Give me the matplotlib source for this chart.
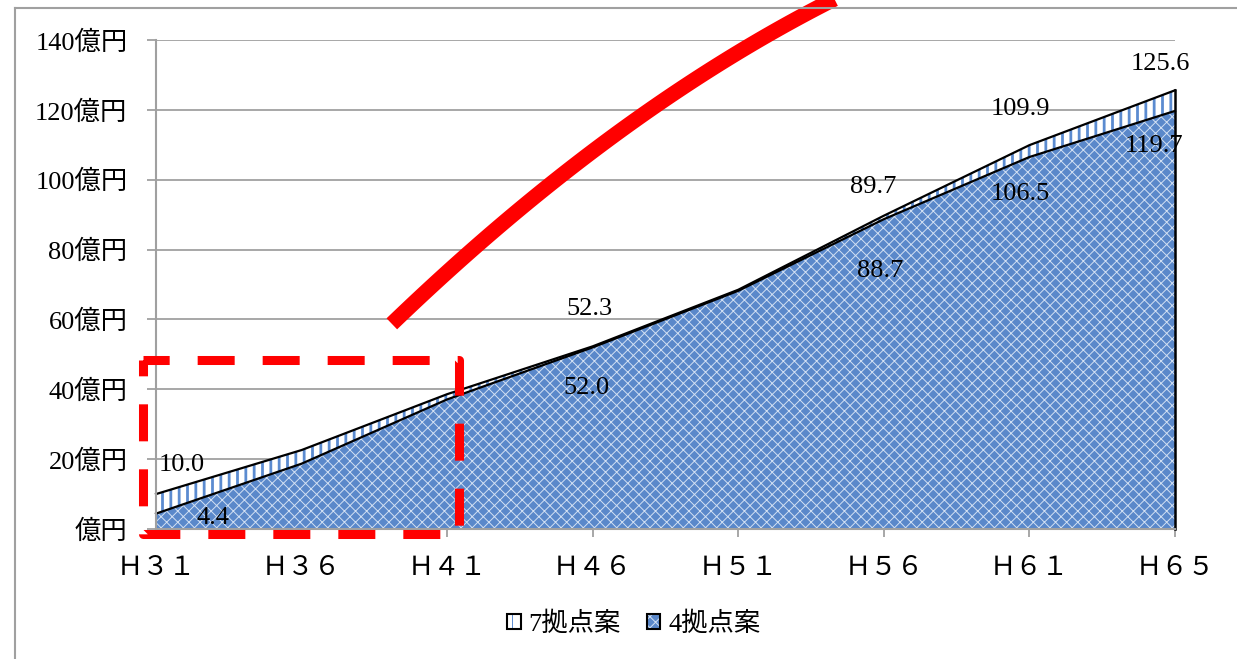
import matplotlib
matplotlib.use("Agg")
import matplotlib.pyplot as plt
from matplotlib.patches import Patch
from matplotlib.lines import Line2D
import numpy as np

# categories (full-width as in the original)
categories = ["Ｈ３１", "Ｈ３６", "Ｈ４１", "Ｈ４６", "Ｈ５１", "Ｈ５６", "Ｈ６１", "Ｈ６５"]
# 7拠点案 / 4拠点案 (億円)
plan7 = [10.0, 22.6, 38.6, 52.3, 68.5, 89.7, 109.9, 125.6]
plan4 = [4.4, 18.7, 37.1, 52.0, 68.2, 88.7, 106.5, 119.7]
series_names = ["7拠点案", "4拠点案"]
y_ticks = [0, 20, 40, 60, 80, 100, 120, 140]
y_ticklabels = ["億円", "20億円", "40億円", "60億円", "80億円", "100億円", "120億円", "140億円"]

# which points carry a data label, and the label offsets (pixels)
label_idx = [0, 3, 5, 6, 7]
off7 = [(26, 29), (-3, 37), (-11, 29), (-9, 36), (-15, 26)]
off4 = [(57, -4), (-6, -41), (-4, -52), (-9, -37), (-21, -35)]

FONT = ["Liberation Serif", "Noto Sans CJK JP"]
plt.rcParams["font.family"] = FONT
plt.rcParams["font.size"] = 19

GRAY = "#a0a0a0"
BLUE = "#5a88ca"
LATTICE = "#d2e0f3"
STRIPE = "#5b8bd0"
RED = "#ff0000"

W, H = 1237, 659
fig = plt.figure(figsize=(W / 100, H / 100), dpi=100)
ax = fig.add_axes([156 / W, 1 - 529 / H, 1019 / W, 489 / H])

x = np.arange(len(categories))

# 7拠点案 : white with vertical blue stripes
plt.rcParams["hatch.linewidth"] = 2.0
ax.fill_between(x, plan7, 0, facecolor="white", edgecolor=STRIPE, hatch="||", lw=0, zorder=2)
# 4拠点案 : blue with light lattice
plt.rcParams["hatch.linewidth"] = 0.7
ax.fill_between(x, plan4, 0, facecolor=BLUE, edgecolor=LATTICE, hatch="xxx", lw=0, zorder=3)

ax.plot(x, plan7, color="black", lw=1.6, zorder=4, clip_on=False)
ax.plot(x, plan4, color="black", lw=1.6, zorder=4, clip_on=False)
ax.plot([x[-1], x[-1]], [0, plan7[-1]], color="black", lw=1.8, zorder=4, clip_on=False)

for k, i in enumerate(label_idx):
    ax.annotate(f"{plan7[i]:.1f}", (x[i], plan7[i]), xytext=off7[k], textcoords="offset pixels",
                ha="center", va="center", zorder=6)
    ax.annotate(f"{plan4[i]:.1f}", (x[i], plan4[i]), xytext=off4[k], textcoords="offset pixels",
                ha="center", va="center", zorder=6)

ax.set_xlim(0, len(categories) - 1)
ax.set_ylim(0, 140)
ax.set_xticks(x)
ax.set_xticklabels(categories)
ax.set_yticks(y_ticks)
ax.set_yticklabels(y_ticklabels)
ax.yaxis.grid(True, color=GRAY, lw=1.3, zorder=0)
ax.set_axisbelow(True)
for s in ["top", "right"]:
    ax.spines[s].set_visible(False)
for s in ["left", "bottom"]:
    ax.spines[s].set_color(GRAY)
    ax.spines[s].set_linewidth(1.5)
    ax.spines[s].set_zorder(5)
ax.tick_params(axis="x", length=6, width=1.3, color=GRAY, pad=15)
ax.tick_params(axis="y", length=6.5, width=1.3, color=GRAY, pad=14)

# red annotations: thick smooth curve and dashed box
# (hand-placed guide points in data units, smoothed with a quadratic)
guide_x = [1.62, 2.16, 2.80, 3.46, 4.10, 4.65]
guide_y = [59.0, 79.0, 101.9, 122.0, 139.1, 151.4]
cf = np.polyfit(guide_x, guide_y, 2)
cx = np.linspace(1.62, 5.0, 80)
ax.plot(cx, np.polyval(cf, cx), color=RED, lw=11, solid_capstyle="butt",
        solid_joinstyle="round", clip_on=False, zorder=7)

bx0, bx1, by0, by1 = -0.089, 2.08, -1.4, 48.4
ax.plot([bx0, bx1, bx1, bx0, bx0], [by1, by1, by0, by0, by1], color=RED, lw=6.5,
        linestyle=(1.2, (4.1, 3.1)), dash_capstyle="butt", dash_joinstyle="round",
        clip_on=False, zorder=7)

# legend
h7 = (Patch(facecolor="white", edgecolor=STRIPE, hatch="||", lw=0),
      Patch(fill=False, edgecolor="black", lw=1.5))
h4 = (Patch(facecolor=BLUE, edgecolor=LATTICE, hatch="xxx", lw=0),
      Patch(fill=False, edgecolor="black", lw=1.5))
fig.legend([h7, h4], series_names, loc="center", bbox_to_anchor=(634 / W, 1 - 624 / H),
           ncol=2, frameon=False, handlelength=0.5, handleheight=0.5, handletextpad=0.3,
           columnspacing=1.0)

# outer chart border (cropped on right and bottom)
fig.add_artist(Line2D([15 / W, 1], [1 - 8 / H, 1 - 8 / H], transform=fig.transFigure, color=GRAY, lw=1.5))
fig.add_artist(Line2D([15 / W, 15 / W], [0, 1 - 8 / H], transform=fig.transFigure, color=GRAY, lw=1.5))

fig.savefig("out.png", dpi=100)
